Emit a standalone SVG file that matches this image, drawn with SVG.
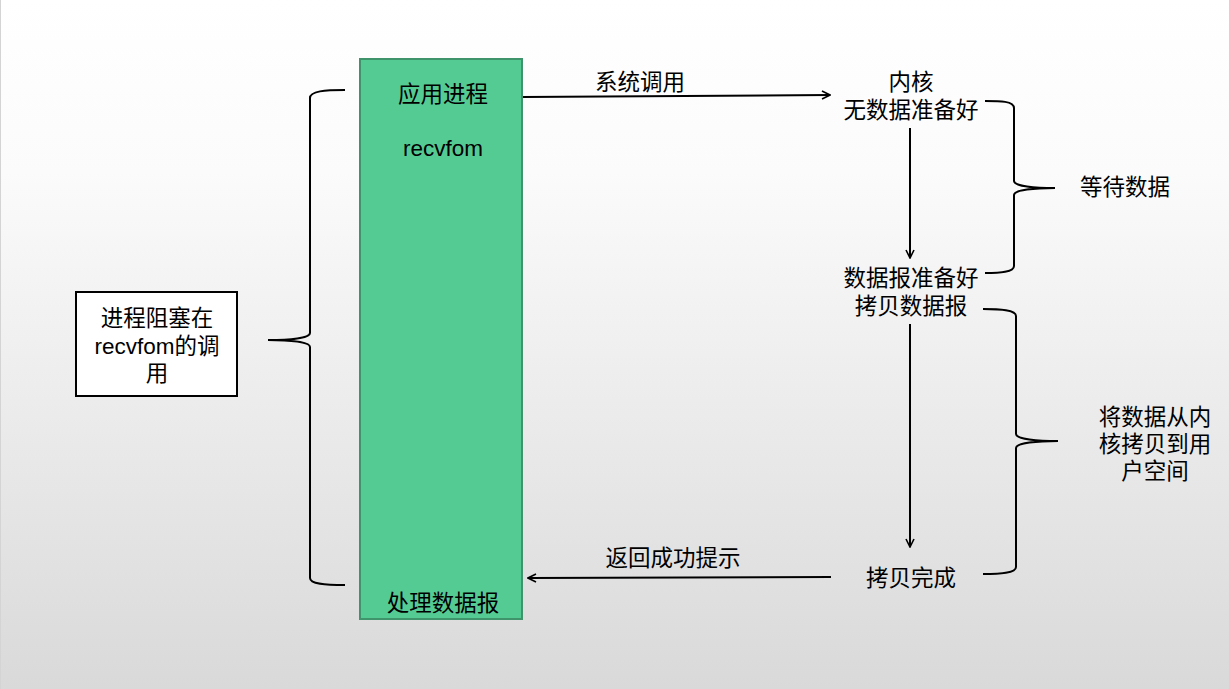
<svg xmlns="http://www.w3.org/2000/svg" width="1229" height="689" viewBox="0 0 1229 689">
<defs>
<linearGradient id="bg" x1="0" y1="0" x2="0" y2="1">
<stop offset="0" stop-color="#ffffff"/>
<stop offset="0.25" stop-color="#fbfbfb"/>
<stop offset="1" stop-color="#d9d9d9"/>
</linearGradient>
<marker id="arr" viewBox="0 0 10 10" refX="9" refY="5" markerWidth="10" markerHeight="10" markerUnits="userSpaceOnUse" orient="auto">
<path d="M1,1 L9,5 L1,9" fill="none" stroke="#000" stroke-width="1.6"/>
</marker>
<style>
.t{font-family:"Microsoft YaHei","Noto Sans CJK SC","Liberation Sans",sans-serif;font-size:22.5px;fill:#000;text-anchor:middle}
.l{font-family:"Liberation Sans",sans-serif}
.ln{stroke:#000;fill:none;stroke-width:2}
.br{stroke:#000;fill:none;stroke-width:2}
</style>
</defs>
<rect x="0" y="0" width="1229" height="689" fill="url(#bg)"/>
<line x1="0.5" y1="0" x2="0.5" y2="689" stroke="#d4d4d4" stroke-width="1"/>

<g id="app">
<rect x="360" y="59" width="162" height="560" fill="#55cb94" stroke="#3f946c" stroke-width="2"/>
<text class="t" x="443" y="102">应用进程</text>
<text class="t l" x="443" y="156">recvfom</text>
<text class="t" x="443" y="611">处理数据报</text>
</g>

<g id="blocked">
<rect x="76" y="292" width="161" height="104" fill="#fff" stroke="#000" stroke-width="2"/>
<text class="t" x="157" y="326">进程阻塞在<tspan x="157" y="354"><tspan class="l">recvfom</tspan>的调</tspan><tspan x="157" y="381">用</tspan></text>
</g>

<g id="kernel">
<text class="t" x="911" y="90">内核<tspan x="911" y="118">无数据准备好</tspan></text>
</g>
<g id="ready">
<text class="t" x="911" y="286">数据报准备好<tspan x="911" y="314">拷贝数据报</tspan></text>
</g>
<g id="done">
<text class="t" x="911" y="586">拷贝完成</text>
</g>
<g id="wait">
<text class="t" x="1125" y="195">等待数据</text>
</g>
<g id="copy">
<text class="t" x="1155" y="425">将数据从内<tspan x="1155" y="452">核拷贝到用</tspan><tspan x="1155" y="479">户空间</tspan></text>
</g>

<g id="connectors">
<line class="ln" x1="523" y1="97" x2="830" y2="95" marker-end="url(#arr)"/>
<text class="t" x="640" y="90">系统调用</text>
<line class="ln" x1="910" y1="128" x2="910" y2="258" stroke-width="1.6" marker-end="url(#arr)"/>
<line class="ln" x1="910" y1="324" x2="910" y2="547" stroke-width="1.6" marker-end="url(#arr)"/>
<line class="ln" x1="831" y1="577" x2="528" y2="578" marker-end="url(#arr)"/>
<text class="t" x="673" y="566">返回成功提示</text>
<path class="br" d="M345,90 C325,90 310,91 310,98 L310,333 C310,338 290,340 268,340 C290,340 310,342 310,347 L310,578 C310,584 325,585 345,585"/>
<path class="br" d="M985,101 C1000,101 1014,101 1014,108 L1014,181 C1014,186 1035,188 1055,188 C1035,188 1014,190 1014,195 L1014,266 C1014,272 1000,273 985,273"/>
<path class="br" d="M983,309 C1000,309 1016,310 1016,316 L1016,434 C1016,439 1038,441 1058,441 C1038,441 1016,443 1016,448 L1016,567 C1016,573 1000,574 983,574"/>
</g>
</svg>
